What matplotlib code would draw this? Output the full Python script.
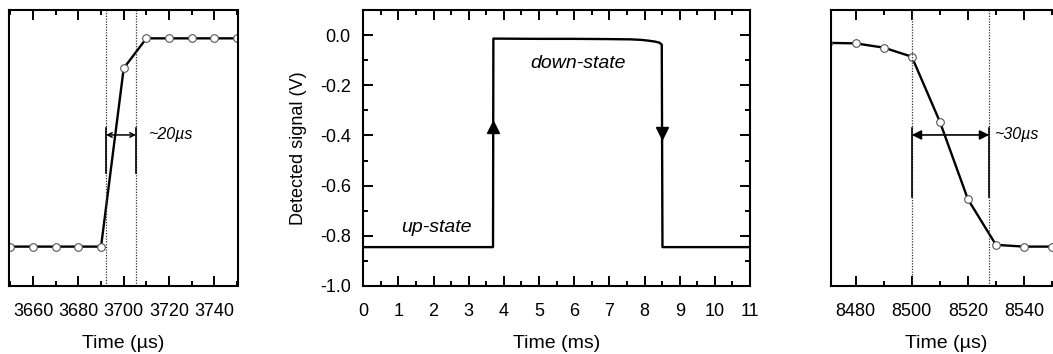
import matplotlib
matplotlib.use("Agg")
import matplotlib.pyplot as plt
from matplotlib.ticker import MultipleLocator

plt.rcParams['font.family'] = ['Liberation Sans', 'DejaVu Sans']

# ---- data ----
# centre panel: full trace (ms, V)
time_ms = [0.0, 1.0, 2.0, 3.0, 3.69, 3.70, 5.0, 6.0, 7.0, 7.6, 7.9, 8.1, 8.3, 8.42, 8.49, 8.51, 9.0, 10.0, 11.0]
signal_v = [-0.845, -0.845, -0.845, -0.845, -0.845, -0.014, -0.015, -0.015, -0.016, -0.017, -0.019, -0.022, -0.026, -0.030, -0.038, -0.845, -0.845, -0.845, -0.845]
arrow_up = (3.70, -0.365)
arrow_down = (8.51, -0.39)

# left panel: rising edge (µs, V)
rise_t = [3650, 3660, 3670, 3680, 3690, 3700, 3710, 3720, 3730, 3740, 3750]
rise_v = [-0.843, -0.843, -0.843, -0.843, -0.843, -0.132, -0.013, -0.013, -0.013, -0.013, -0.013]
rise_marks = (3692.2, 3705.4)

# right panel: falling edge (µs, V)
fall_t = [8470, 8480, 8490, 8500, 8510, 8520, 8530, 8540, 8550]
fall_v = [-0.031, -0.033, -0.050, -0.086, -0.345, -0.654, -0.836, -0.843, -0.843]
fall_marks = (8500.0, 8527.6)

fig = plt.figure(figsize=(10.53, 3.54), dpi=100)
W, H = 1053, 354
bottom = 1 - 286 / H
height = (286 - 10) / H

ax1 = fig.add_axes([9 / W, bottom, 229 / W, height])
ax2 = fig.add_axes([363.3 / W, bottom, 386.7 / W, height])
ax3 = fig.add_axes([831 / W, bottom, 230 / W, height])

FS = 13
LFS = 14
for ax in (ax1, ax2, ax3):
    for s in ax.spines.values():
        s.set_linewidth(1.5)
    ax.tick_params(which='both', direction='in', width=1.4, labelsize=FS, pad=12)
    ax.tick_params(which='major', length=7)
    ax.tick_params(which='minor', length=3.5)
    ax.set_ylim(-1.0, 0.1)

line_kw = dict(color='black', lw=1.7, marker='o', ms=5.5, mfc='white', mec='#555555', mew=0.8)
dot_kw = dict(color='#333333', lw=0.9, ls=(0, (1, 1.2)))

# ---- left ----
ax1.plot(rise_t, rise_v, **line_kw)
ax1.set_xlim(3649.4, 3750.4)
ax1.xaxis.set_major_locator(MultipleLocator(20))
ax1.xaxis.set_minor_locator(MultipleLocator(10))
ax1.tick_params(which='both', top=True, left=False, right=False, labelleft=False)
ax1.set_yticks([])
for x in rise_marks:
    ax1.axvline(x, **dot_kw)
    ax1.plot([x, x], [-0.37, -0.55], color='black', lw=1.2)
ax1.annotate('', xy=(rise_marks[0], -0.398), xytext=(rise_marks[1], -0.398),
             arrowprops=dict(arrowstyle='<->', lw=1.1, color='black', shrinkA=0, shrinkB=0,
                             mutation_scale=8))
ax1.text(3710.9, -0.398, '~20µs', style='italic', fontsize=11.5, va='center', ha='left')
ax1.set_xlabel('Time (µs)', fontsize=LFS, labelpad=11)

# ---- centre ----
ax2.plot(time_ms, signal_v, color='black', lw=1.7)
ax2.plot([arrow_up[0]], [arrow_up[1]], marker='^', color='black', ms=9)
ax2.plot([arrow_down[0]], [arrow_down[1]], marker='v', color='black', ms=9)
ax2.set_xlim(0, 11)
ax2.xaxis.set_major_locator(MultipleLocator(1))
ax2.xaxis.set_minor_locator(MultipleLocator(0.5))
ax2.yaxis.set_major_locator(MultipleLocator(0.2))
ax2.yaxis.set_minor_locator(MultipleLocator(0.1))
ax2.tick_params(which='both', top=True, right=True)
ax2.tick_params(axis='y', pad=9)
ax2.set_yticks([-1.0, -0.8, -0.6, -0.4, -0.2, 0.0])
ax2.set_yticklabels(['-1.0', '-0.8', '-0.6', '-0.4', '-0.2', '0.0'])
ax2.text(6.1, -0.112, 'down-state', style='italic', fontsize=14, ha='center', va='center')
ax2.text(2.07, -0.767, 'up-state', style='italic', fontsize=14, ha='center', va='center')
ax2.set_xlabel('Time (ms)', fontsize=LFS, labelpad=11)
ax2.set_ylabel('Detected signal (V)', fontsize=13, labelpad=9)

# ---- right ----
ax3.plot(fall_t, fall_v, **line_kw)
ax3.set_xlim(8471.2, 8553.2)
ax3.xaxis.set_major_locator(MultipleLocator(20))
ax3.xaxis.set_minor_locator(MultipleLocator(10))
ax3.tick_params(which='both', top=True, left=False, right=False, labelleft=False)
ax3.set_yticks([])
for x in fall_marks:
    ax3.axvline(x, **dot_kw)
    ax3.plot([x, x], [-0.37, -0.645], color='black', lw=1.2)
ax3.annotate('', xy=(fall_marks[0], -0.398), xytext=(fall_marks[1], -0.398),
             arrowprops=dict(arrowstyle='<|-|>', lw=1.2, color='black', shrinkA=0, shrinkB=0,
                             mutation_scale=14))
ax3.text(8529.3, -0.398, '~30µs', style='italic', fontsize=11.5, va='center', ha='left')
ax3.set_xlabel('Time (µs)', fontsize=LFS, labelpad=11)

fig.savefig('out.png', dpi=100)
